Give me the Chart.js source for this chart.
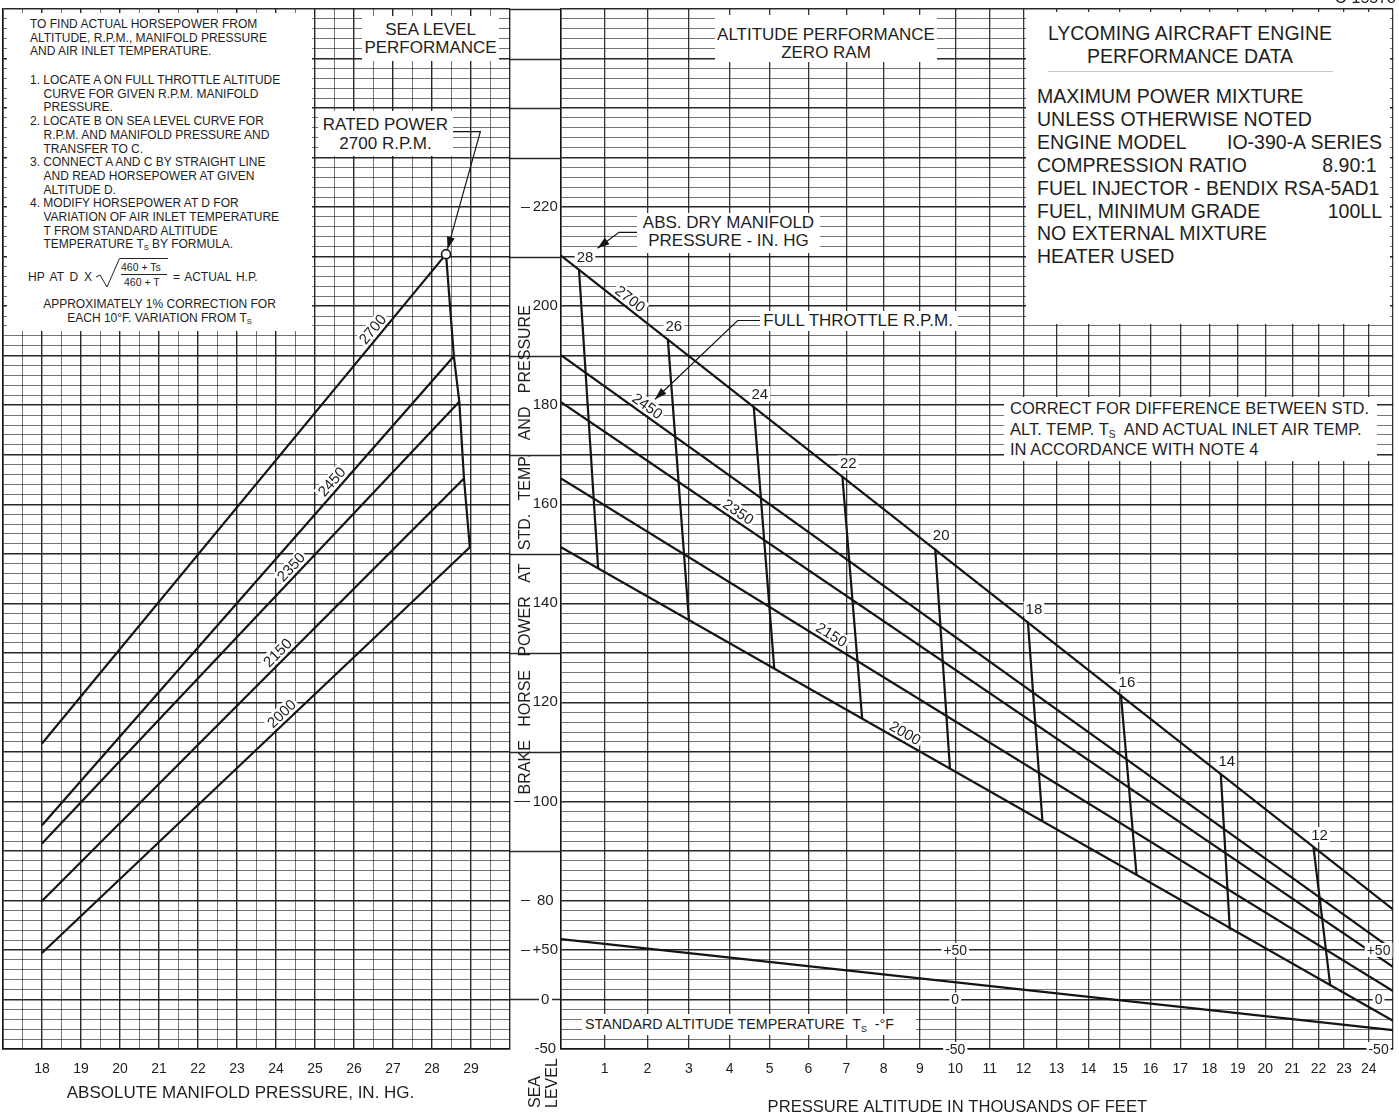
<!DOCTYPE html>
<html>
<head>
<meta charset="utf-8">
<script src="https://cdn.jsdelivr.net/npm/chart.js@4.4.1/dist/chart.umd.min.js"></script>
<style>
  body { margin: 0; background: #fff; width: 1399px; height: 1117px; overflow: hidden; position: relative; }
  canvas { position: absolute; left: 0; top: 0; }
  .box, .t { position: absolute; font-family: 'Liberation Sans', Arial, Helvetica, sans-serif; color: #1e1e1e; white-space: nowrap; box-sizing: border-box; }
  .box { background: #fff; }
  .note { font-size: 12px; line-height: 13.7px; }
  .in { padding-left: 13.5px; }
  sub { font-size: 0.62em; vertical-align: -0.3em; line-height: 0; }
  .row { display: flex; justify-content: space-between; height: 22.86px; line-height: 22.86px; }
</style>
</head>
<body>
<canvas id="seaLevel" width="520" height="1117"></canvas>
<canvas id="altitude" width="1399" height="1117"></canvas>

<!-- how-to note, top left -->
<div class="box" style="left:7px;top:13px;width:305px;height:318px"></div>
<div class="t note" style="left:30px;top:18px">TO FIND ACTUAL HORSEPOWER FROM<br>ALTITUDE, R.P.M., MANIFOLD PRESSURE<br>AND AIR INLET TEMPERATURE.</div>
<div class="t note" style="left:30px;top:74px">1. LOCATE A ON FULL THROTTLE ALTITUDE<br><span class="in">CURVE FOR GIVEN R.P.M. MANIFOLD</span><br><span class="in">PRESSURE.</span><br>2. LOCATE B ON SEA LEVEL CURVE FOR<br><span class="in">R.P.M. AND MANIFOLD PRESSURE AND</span><br><span class="in">TRANSFER TO C.</span><br>3. CONNECT A AND C BY STRAIGHT LINE<br><span class="in">AND READ HORSEPOWER AT GIVEN</span><br><span class="in">ALTITUDE D.</span><br>4. MODIFY HORSEPOWER AT D FOR<br><span class="in">VARIATION OF AIR INLET TEMPERATURE</span><br><span class="in">T FROM STANDARD ALTITUDE</span><br><span class="in">TEMPERATURE T<sub>S</sub> BY FORMULA.</span></div>
<div class="t" style="left:28px;top:270px;font-size:12px;line-height:14px;word-spacing:2.4px">HP AT D X</div>
<svg style="position:absolute;left:0;top:0" width="200" height="300"><polyline points="96,277 100,275 107,287 119.5,258.5 168,258.5" fill="none" stroke="#222" stroke-width="1"/></svg>
<div class="t" style="left:121px;top:261px;font-size:10.5px;line-height:12px">460 + Ts</div>
<div style="position:absolute;left:121px;top:274px;width:46px;height:1px;background:#222"></div>
<div class="t" style="left:124px;top:276px;font-size:10.5px;line-height:12px">460 + T</div>
<div class="t" style="left:173px;top:270px;font-size:12px;line-height:14px;word-spacing:1.5px">= ACTUAL H.P.</div>
<div class="t note" style="left:7px;width:305px;top:298px;text-align:center">APPROXIMATELY 1% CORRECTION FOR<br>EACH 10°F. VARIATION FROM T<sub>S</sub></div>

<div class="box" style="left:362px;top:16px;width:137px;height:45px;padding-top:4.75px;text-align:center;font-size:17px;line-height:18.5px">SEA LEVEL<br>PERFORMANCE</div>
<div class="box" style="left:318px;top:111px;width:135px;height:45px;padding-top:4px;text-align:center;font-size:17px;line-height:19px">RATED POWER<br>2700 R.P.M.</div>
<div class="box" style="left:715px;top:15px;width:222px;height:47px;padding-top:10.75px;text-align:center;font-size:17px;line-height:18.5px">ALTITUDE PERFORMANCE<br>ZERO RAM</div>
<div class="box" style="left:637px;top:213px;width:183px;height:40px;padding-top:0.6px;text-align:center;font-size:17px;line-height:18.7px">ABS. DRY MANIFOLD<br>PRESSURE - IN. HG</div>
<div class="box" style="left:760px;top:311px;width:198px;height:20px;padding-left:3.3px;font-size:17px;line-height:19.6px">FULL THROTTLE R.P.M.</div>
<div class="box" style="left:1004px;top:397px;width:373px;height:64px;padding-left:6px;padding-top:0.9px;font-size:16.5px;line-height:20.8px">CORRECT FOR DIFFERENCE BETWEEN STD.<br>ALT. TEMP. T<sub>S</sub>&nbsp; AND ACTUAL INLET AIR TEMP.<br>IN ACCORDANCE WITH NOTE 4</div>
<div class="box" style="left:582px;top:1014px;width:334px;height:21px;padding-left:3px;padding-top:0.3px;font-size:14.3px;line-height:20px">STANDARD ALTITUDE TEMPERATURE&nbsp; T<sub>S</sub>&nbsp; -°F</div>

<!-- engine data, top right -->
<div class="box" style="left:1026px;top:12px;width:364px;height:312px"></div>
<div class="t" style="left:1026px;top:21.6px;width:328px;text-align:center;font-size:19.5px;line-height:23.4px">LYCOMING AIRCRAFT ENGINE<br>PERFORMANCE DATA</div>
<div style="position:absolute;left:1048px;top:71px;width:285px;height:1px;background:#c8c8c8"></div>
<div class="t" style="left:1037px;top:85.3px;width:345px;font-size:19.5px">
  <div class="row"><span>MAXIMUM POWER MIXTURE</span></div>
  <div class="row"><span>UNLESS OTHERWISE NOTED</span></div>
  <div class="row"><span>ENGINE MODEL</span><span>IO-390-A SERIES</span></div>
  <div class="row"><span>COMPRESSION RATIO</span><span>8.90:1&nbsp;</span></div>
  <div class="row"><span>FUEL INJECTOR - BENDIX RSA-5AD1</span></div>
  <div class="row"><span>FUEL, MINIMUM GRADE</span><span>100LL</span></div>
  <div class="row"><span>NO EXTERNAL MIXTURE</span></div>
  <div class="row"><span>HEATER USED</span></div>
</div>
<div class="t" style="right:3px;top:-10px;font-size:16px;line-height:16px">C-15578</div>

<script>
const FONT = "'Liberation Sans', Arial, Helvetica, sans-serif";
const INK = '#141414';
const TEXT = '#1e1e1e';

// ---- sea level performance: bhp against absolute manifold pressure (in. Hg)
const rpmNames = ['2700', '2450', '2350', '2150', '2000'];
const slFromMP = [18, 18, 18, 18, 18];
const slFromHP = [111.7, 95.2, 91.5, 79.9, 69.4];
const slToMP = [28.36, 28.56, 28.70, 28.82, 28.97]; // full throttle at sea level
const slToHP = [210.5, 189.9, 180.7, 165.2, 151.3];
const slLabelMP = [26.65, 25.6, 24.55, 24.2, 24.3];

// ---- altitude performance, zero ram: bhp against pressure altitude (1000 ft)
const altEnds = [0, 25];
const altFromHP = [210.2, 190.1, 180.6, 165.2, 151.3];
const altToHP = [78.2, 70.0, 66.6, 61.7, 55.7];
const altLabelAt = [1.47, 1.88, 4.09, 6.48, 8.47];

// full throttle lines, abs. dry manifold pressure (in. Hg)
const mpNames = ['28', '26', '24', '22', '20', '18', '16', '14', '12'];
const mpTopAlt = [0.41, 2.49, 4.60, 6.89, 9.43, 12.13, 15.03, 18.40, 21.81];
const mpTopHP = [207.4, 193.4, 179.7, 165.7, 151.1, 136.3, 121.6, 105.5, 90.7];
const mpLowAlt = [0.85, 3.00, 5.12, 7.42, 9.85, 12.57, 15.54, 18.72, 22.46];
const mpLowHP = [147.1, 136.6, 126.8, 116.7, 106.5, 96.0, 85.1, 74.1, 62.8];

// standard altitude temperature (deg F)
const stdTempAlt = [0, 25];
const stdTempF = [61, -31];

// ticks and ranges
const mpTicks = [18, 19, 20, 21, 22, 23, 24, 25, 26, 27, 28, 29];
const altTicks = [1, 2, 3, 4, 5, 6, 7, 8, 9, 10, 11, 12, 13, 14, 15, 16, 17, 18, 19, 20, 21, 22, 23, 24];
const hpTicks = [80, 100, 120, 140, 160, 180, 200, 220];
const tempTicks = [-50, 0, 50];
const tempMarksAlt = [10, 24.4];
const HP_RANGE = [50, 260];
const TEMP_RANGE = [-50, 1000];
const MP_RANGE = [17, 30];

// lines that run through the gap between the two panels, and short dashes by labels
const gapLinesHP = [260, 250, 240, 230, 210, 190, 170, 150, 130, 110, 90];
const gapDashHP = [220, 100, 80, 70];

// arrows
const ratedLeader = { mp: [28.51, 29.24, 28.40], hp: [235.24, 235.24, 211.55] };
const manifoldLeader = { alt: [1.788, 1.335, 0.835], hp: [214.9, 214.9, 211.7] };
const throttleLeader = { alt: [4.834, 4.198, 2.184], hp: [197.1, 197.1, 181.2] };

// ---- altitude axis: spaced by standard atmosphere density ratio
const Linear = Chart.LinearScale || Chart.registry.getScale('linear');
const densityLoss = (kft) => 1 - Math.pow(1 - 0.0068756 * kft, 4.2559);
const altFromLoss = (d) => (1 - Math.pow(1 - d, 1 / 4.2559)) / 0.0068756;
class DensityAltScale extends Linear {
  getPixelForValue(value) {
    if (value === null || isNaN(value)) return NaN;
    const a = densityLoss(this.min), b = densityLoss(this.max);
    return this.getPixelForDecimal((densityLoss(value) - a) / (b - a));
  }
  getValueForPixel(pixel) {
    const a = densityLoss(this.min), b = densityLoss(this.max);
    return altFromLoss(a + this.getDecimalForPixel(pixel) * (b - a));
  }
}
DensityAltScale.id = 'densityAlt';
DensityAltScale.defaults = Linear.defaults;
Chart.register(DensityAltScale);

// ---- helpers
const gridMinor = 'rgba(25,25,25,0.6)';
const gridMajor = 'rgba(10,10,10,0.88)';
const hpGrid = (c) => (c.tick && c.tick.value % 10 === 0 ? gridMajor : gridMinor);
const hpGridW = (c) => (c.tick && c.tick.value % 10 === 0 ? 1.4 : 1);

function tag(ctx, text, x, y, size, angle = 0) {
  ctx.save();
  ctx.translate(x, y);
  ctx.rotate(angle);
  ctx.font = `${size}px ${FONT}`;
  const w = ctx.measureText(text).width;
  ctx.fillStyle = '#fff';
  ctx.fillRect(-w / 2 - 2, -size / 2, w + 4, size);
  ctx.fillStyle = TEXT;
  ctx.textAlign = 'center';
  ctx.textBaseline = 'middle';
  ctx.fillText(text, 0, 1);
  ctx.restore();
}

function leader(ctx, pts) {
  ctx.save();
  ctx.strokeStyle = INK;
  ctx.fillStyle = INK;
  ctx.lineWidth = 1.2;
  ctx.beginPath();
  pts.forEach((p, i) => (i ? ctx.lineTo(p[0], p[1]) : ctx.moveTo(p[0], p[1])));
  ctx.stroke();
  const a = pts[pts.length - 2], b = pts[pts.length - 1];
  ctx.translate(b[0], b[1]);
  ctx.rotate(Math.atan2(b[1] - a[1], b[0] - a[0]));
  ctx.beginPath();
  ctx.moveTo(0, 0);
  ctx.lineTo(-12, -4);
  ctx.lineTo(-12, 4);
  ctx.closePath();
  ctx.fill();
  ctx.restore();
}

function text(ctx, str, x, y, size, angle = 0, align = 'center') {
  ctx.save();
  ctx.translate(x, y);
  ctx.rotate(angle);
  ctx.font = `${size}px ${FONT}`;
  ctx.fillStyle = TEXT;
  ctx.textAlign = align;
  ctx.textBaseline = 'middle';
  ctx.fillText(str, 0, 0);
  ctx.restore();
}

function lineLabels(ctx, xs, ys, names, fromX, toX, fromY, toY, at) {
  names.forEach((name, i) => {
    const x0 = xs.getPixelForValue(fromX[i]), y0 = ys.getPixelForValue(fromY[i]);
    const x1 = xs.getPixelForValue(toX[i]), y1 = ys.getPixelForValue(toY[i]);
    const ang = Math.atan2(y1 - y0, x1 - x0);
    const fx = xs.getPixelForValue(at[i]);
    const fy = y0 + (fx - x0) * (y1 - y0) / (x1 - x0);
    tag(ctx, name, fx + 9 * Math.sin(ang), fy - 9 * Math.cos(ang), 15, ang);
  });
}

const lineStyle = { borderColor: INK, borderWidth: 2.2, pointRadius: 0, fill: false };
// tick marks are kept invisible: they only push the labels away from the axis
const hiddenTicks = (len) => ({ drawTicks: true, tickLength: len, tickColor: 'rgba(0,0,0,0)' });

// ---- left chart: sea level performance
const slDatasets = rpmNames.map((name, i) => ({
  label: name + ' R.P.M.',
  data: [{ x: slFromMP[i], y: slFromHP[i] }, { x: slToMP[i], y: slToHP[i] }],
  ...lineStyle,
  pointRadius: i === 0 ? [0, 4.5] : 0,
  pointBackgroundColor: '#fff',
  pointBorderColor: INK,
  pointBorderWidth: 1.6,
}));
slDatasets.push({
  label: 'full throttle',
  data: slToMP.map((mp, i) => ({ x: mp, y: slToHP[i] })),
  ...lineStyle,
});

const seaLevelNotes = {
  id: 'seaLevelNotes',
  afterDatasetsDraw(chart) {
    const { ctx, chartArea: area, scales: { x, y } } = chart;
    lineLabels(ctx, x, y, rpmNames, slFromMP, slToMP, slFromHP, slToHP, slLabelMP);
    leader(ctx, ratedLeader.mp.map((m, i) => [x.getPixelForValue(m), y.getPixelForValue(ratedLeader.hp[i])]));
    text(ctx, 'ABSOLUTE MANIFOLD PRESSURE, IN. HG.', x.getPixelForValue(23.09), area.bottom + 44, 17);
  },
};

new Chart(document.getElementById('seaLevel'), {
  type: 'line',
  data: { datasets: slDatasets },
  options: {
    responsive: false,
    animation: false,
    events: [],
    layout: { autoPadding: false, padding: { left: 3, top: 9, right: 10, bottom: 0 } },
    plugins: { legend: { display: false }, tooltip: { enabled: false } },
    scales: {
      x: {
        type: 'linear',
        min: MP_RANGE[0],
        max: MP_RANGE[1],
        afterFit: (s) => { s.height = 68; },
        border: { color: INK, width: 1.5 },
        grid: {
          ...hiddenTicks(12),
          color: (c) => (Number.isInteger(c.tick.value) ? gridMajor : gridMinor),
          lineWidth: (c) => (Number.isInteger(c.tick.value) ? 1.4 : 1),
        },
        ticks: {
          stepSize: 0.5,
          autoSkip: false,
          maxRotation: 0,
          padding: 0,
          color: TEXT,
          font: { family: FONT, size: 14 },
          callback: (v) => (mpTicks.includes(v) ? String(v) : ''),
        },
      },
      y: {
        min: HP_RANGE[0],
        max: HP_RANGE[1],
        afterFit: (s) => { s.width = 0; },
        border: { color: INK, width: 1.5 },
        grid: { drawTicks: false, color: hpGrid, lineWidth: hpGridW },
        ticks: { stepSize: 2, display: false },
      },
    },
  },
  plugins: [seaLevelNotes],
});

// ---- right chart: altitude performance
const altDatasets = rpmNames.map((name, i) => ({
  label: name + ' R.P.M.',
  data: [{ x: altEnds[0], y: altFromHP[i] }, { x: altEnds[1], y: altToHP[i] }],
  ...lineStyle,
}));
mpNames.forEach((name, i) => altDatasets.push({
  label: name + ' IN. HG',
  data: [{ x: mpTopAlt[i], y: mpTopHP[i] }, { x: mpLowAlt[i], y: mpLowHP[i] }],
  ...lineStyle,
}));
altDatasets.push({
  label: 'standard altitude temperature',
  yAxisID: 'yT',
  data: stdTempAlt.map((a, i) => ({ x: a, y: stdTempF[i] })),
  ...lineStyle,
});

const altitudeNotes = {
  id: 'altitudeNotes',
  beforeDraw(chart) {
    const { ctx, chartArea: area, scales: { y, yT } } = chart;
    const gx = y.left;
    ctx.save();
    ctx.strokeStyle = gridMajor;
    ctx.lineWidth = 1.4;
    ctx.beginPath();
    gapLinesHP.forEach((v) => {
      const py = Math.round(y.getPixelForValue(v)) + 0.5;
      ctx.moveTo(gx, py);
      ctx.lineTo(area.left, py);
    });
    const zero = Math.round(yT.getPixelForValue(0)) + 0.5;
    ctx.moveTo(gx, zero);
    ctx.lineTo(gx + 29, zero);
    ctx.moveTo(area.left - 9, zero);
    ctx.lineTo(area.left, zero);
    ctx.stroke();
    ctx.lineWidth = 1.2;
    ctx.beginPath();
    gapDashHP.forEach((v) => {
      const py = Math.round(y.getPixelForValue(v)) + 0.5;
      ctx.moveTo(gx + (v === 100 ? 4 : 11), py);
      ctx.lineTo(gx + 20, py);
    });
    ctx.stroke();
    ctx.restore();
  },
  afterDatasetsDraw(chart) {
    const { ctx, chartArea: area, scales: { x, y, yT } } = chart;
    lineLabels(ctx, x, y, rpmNames, rpmNames.map(() => altEnds[0]), rpmNames.map(() => altEnds[1]), altFromHP, altToHP, altLabelAt);
    mpNames.forEach((name, i) => tag(ctx, name, x.getPixelForValue(mpTopAlt[i]) + 6, y.getPixelForValue(mpTopHP[i]) - 13, 15));
    tempMarksAlt.forEach((a) => tempTicks.forEach((t) =>
      tag(ctx, t > 0 ? '+' + t : String(t), x.getPixelForValue(a), yT.getPixelForValue(t), 14)));
    leader(ctx, manifoldLeader.alt.map((a, i) => [x.getPixelForValue(a), y.getPixelForValue(manifoldLeader.hp[i])]));
    leader(ctx, throttleLeader.alt.map((a, i) => [x.getPixelForValue(a), y.getPixelForValue(throttleLeader.hp[i])]));
    const sl = x.getPixelForValue(0);
    text(ctx, 'SEA', sl - 25, area.bottom + 59, 16, -Math.PI / 2, 'left');
    text(ctx, 'LEVEL', sl - 8.5, area.bottom + 59, 16, -Math.PI / 2, 'left');
    text(ctx, 'PRESSURE ALTITUDE IN THOUSANDS OF FEET', x.getPixelForValue(10.06), area.bottom + 58, 16.6);
    text(ctx, 'BRAKE   HORSE   POWER   AT   STD.   TEMP.   AND   PRESSURE',
      area.left - 35, y.getPixelForValue(150.8), 16, -Math.PI / 2);
  },
};

new Chart(document.getElementById('altitude'), {
  type: 'line',
  data: { datasets: altDatasets },
  options: {
    responsive: false,
    animation: false,
    events: [],
    layout: { autoPadding: false, padding: { left: 510, top: 9, right: 6, bottom: 0 } },
    plugins: { legend: { display: false }, tooltip: { enabled: false } },
    scales: {
      x: {
        type: 'densityAlt',
        min: 0,
        max: 25,
        afterFit: (s) => { s.height = 68; },
        border: { color: INK, width: 1.5 },
        grid: { ...hiddenTicks(12), color: 'rgba(10,10,10,0.82)', lineWidth: 1.3 },
        ticks: {
          stepSize: 1,
          autoSkip: false,
          maxRotation: 0,
          padding: 0,
          color: TEXT,
          font: { family: FONT, size: 14 },
          callback: (v) => (altTicks.includes(v) ? String(v) : ''),
        },
      },
      y: {
        position: 'left',
        min: HP_RANGE[0],
        max: HP_RANGE[1],
        afterFit: (s) => { s.width = 51; },
        border: { color: INK, width: 1.5 },
        grid: { ...hiddenTicks(3), color: hpGrid, lineWidth: hpGridW },
        ticks: {
          stepSize: 2,
          autoSkip: false,
          crossAlign: 'center',
          padding: 0,
          color: TEXT,
          font: { family: FONT, size: 15, lineHeight: 1.1 },
          callback: (v) => {
            if (hpTicks.includes(v)) return String(v);
            if (v >= hpTicks[0]) return '';
            const f = (v - HP_RANGE[0]) / (HP_RANGE[1] - HP_RANGE[0]);
            const t = Math.round(TEMP_RANGE[0] + f * (TEMP_RANGE[1] - TEMP_RANGE[0]));
            return tempTicks.includes(t) ? (t > 0 ? '+' + t : String(t)) : '';
          },
        },
      },
      yT: { display: false, min: TEMP_RANGE[0], max: TEMP_RANGE[1] },
    },
  },
  plugins: [altitudeNotes],
});
</script>
</body>
</html>
